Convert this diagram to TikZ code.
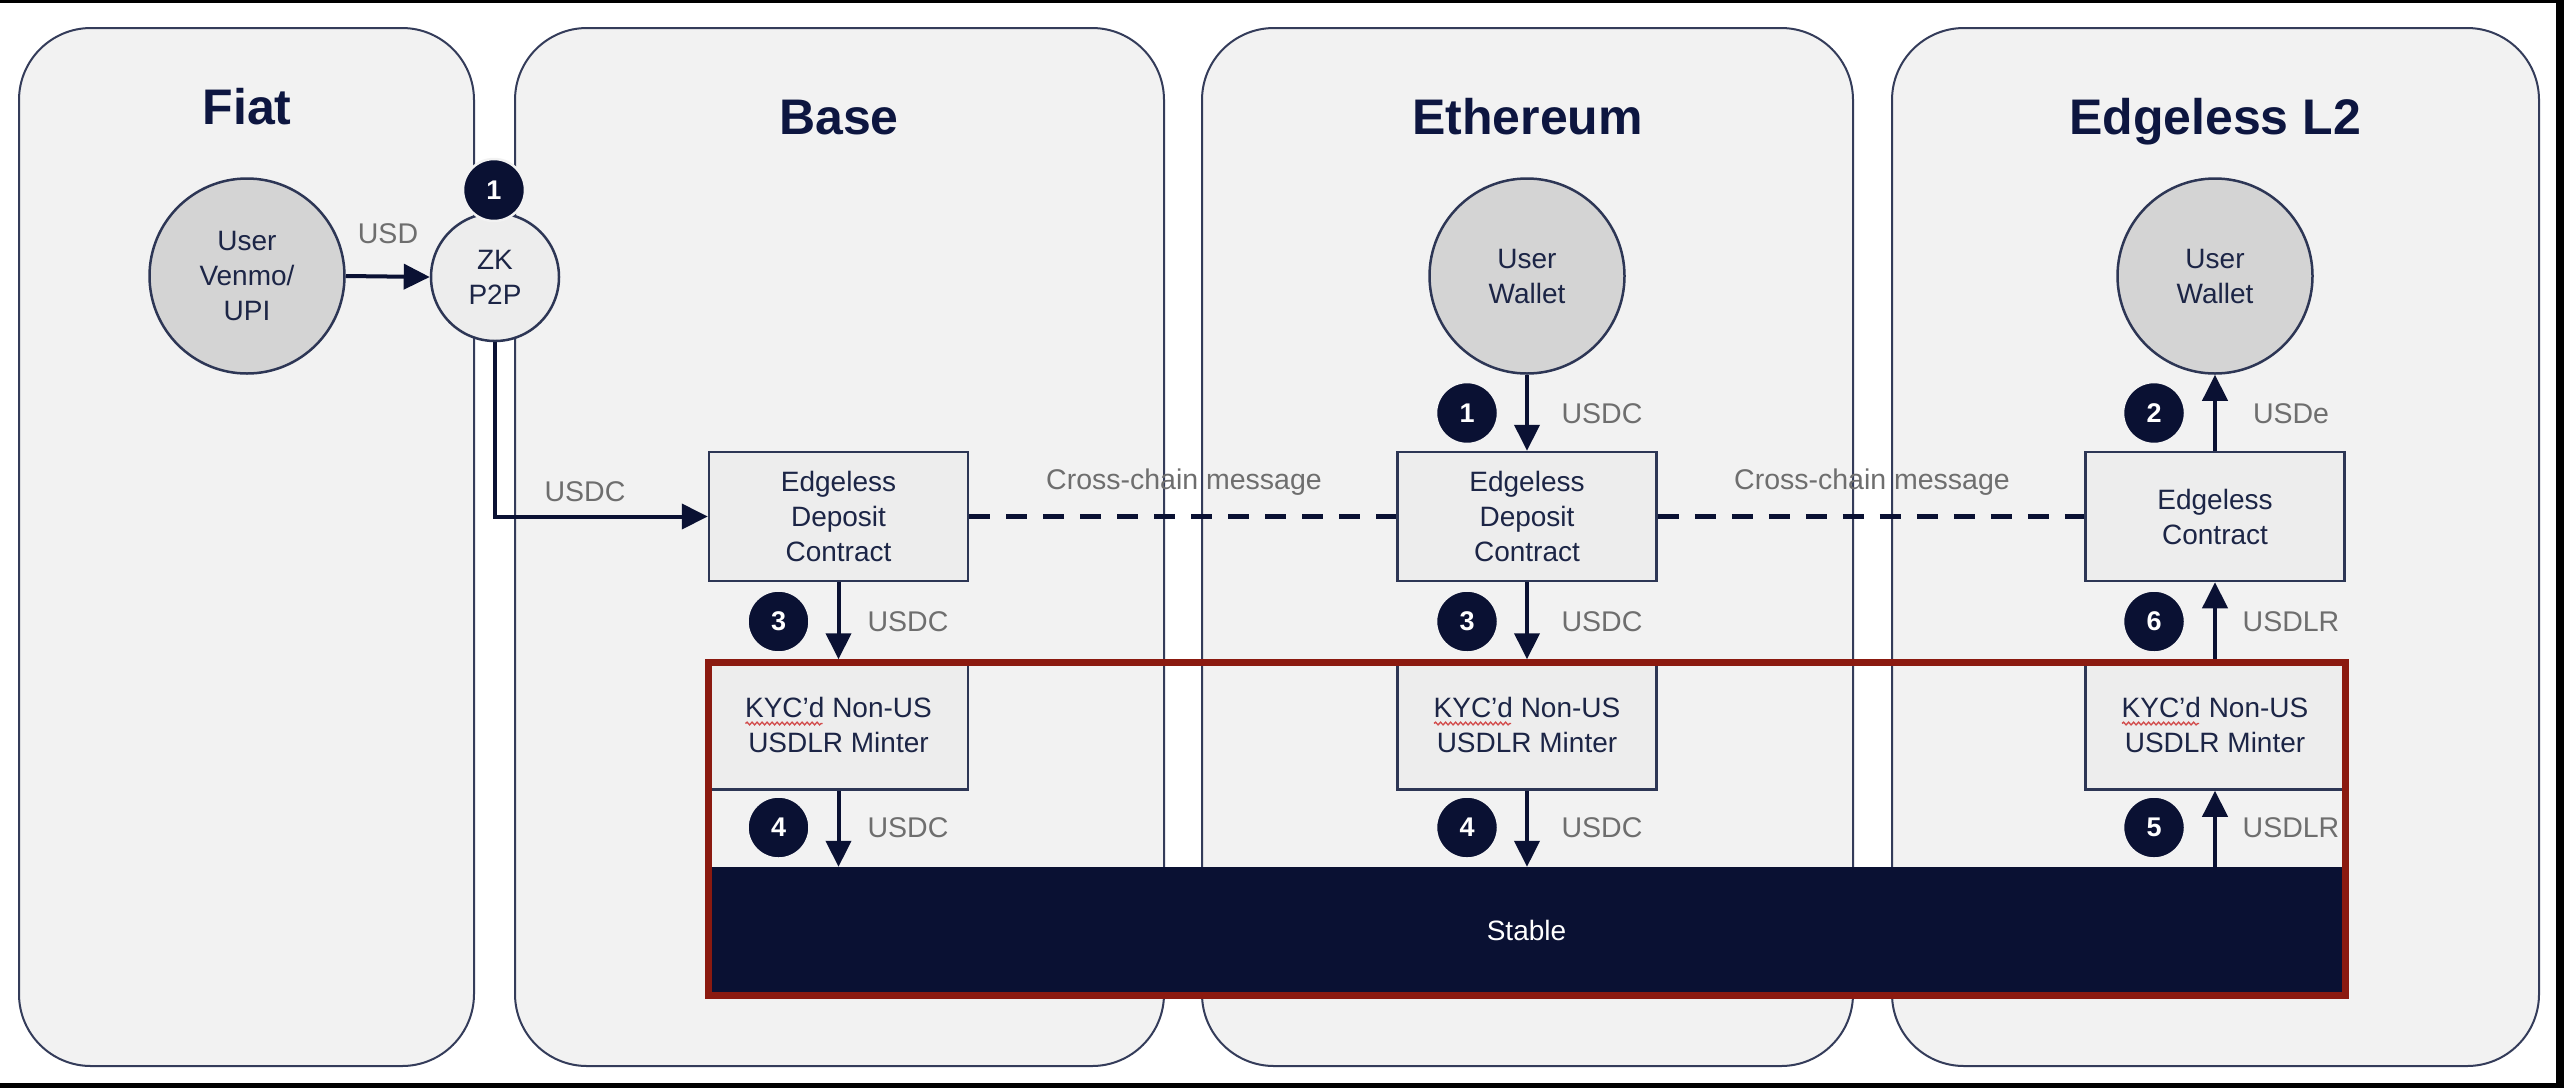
\documentclass[tikz,border=0pt]{standalone}
\usepackage{fontspec}
\setmainfont{Liberation Sans}
\usetikzlibrary{arrows.meta,calc,decorations.pathmorphing}
\definecolor{panelfill}{HTML}{F2F2F2}
\definecolor{panelline}{HTML}{343C5A}
\definecolor{boxfill}{HTML}{EDEDED}
\definecolor{boxline}{HTML}{2D3655}
\definecolor{userfill}{HTML}{D4D4D4}
\definecolor{navy}{HTML}{0A1133}
\definecolor{titlenavy}{HTML}{0D1640}
\definecolor{textnavy}{HTML}{1C2546}
\definecolor{labelgray}{HTML}{6E6E6E}
\definecolor{kycred}{HTML}{8B1A10}
\definecolor{squigred}{HTML}{D24B4B}
\begin{document}
\begin{tikzpicture}[x=1pt,y=-1pt,
  panel/.style={draw=panelline, line width=2pt, fill=panelfill, rounded corners=72pt, inner sep=0pt},
  paneltitle/.style={anchor=base, inner sep=0pt, text=titlenavy, font=\fontsize{50}{60}\selectfont\bfseries},
  cbox/.style={draw=boxline, line width=2.5pt, fill=boxfill, minimum width=259pt, minimum height=129pt, inner sep=0pt, align=center, text=textnavy, font=\fontsize{28}{35}\selectfont},
  usercirc/.style={circle, draw=boxline, line width=2.5pt, fill=userfill, minimum size=195pt, inner sep=0pt, align=center, text=textnavy, font=\fontsize{28}{35}\selectfont},
  zkcirc/.style={circle, draw=boxline, line width=2.5pt, fill=boxfill, minimum size=128pt, inner sep=0pt, align=center, text=textnavy, font=\fontsize{28}{35}\selectfont},
  stepbadge/.style={circle, fill=navy, draw=panelfill, line width=2.5pt, minimum size=62pt, inner sep=0pt, text=white, font=\fontsize{27}{30}\selectfont\bfseries},
  lbl/.style={anchor=base, inner sep=0pt, text=labelgray, font=\fontsize{28.5}{34}\selectfont},
  flowarrow/.style={draw=navy, line width=4pt, -{Triangle[width=25pt,length=26pt]}},
  xmsg/.style={draw=navy, line width=4.5pt, dash pattern=on 21pt off 16pt},
  stablebar/.style={fill=navy, minimum width=1637pt, minimum height=126pt, inner sep=0pt, text=white, font=\fontsize{28}{34}\selectfont},
  redframe/.style={draw=kycred, line width=7pt, minimum width=1637pt, minimum height=333pt, inner sep=0pt},
  squig/.style={draw=squigred, line width=1.3pt, decorate, decoration={snake, segment length=5pt, amplitude=1.4pt}}
]
\useasboundingbox (0,0) rectangle (2564,1088);
\fill[white] (0,0) rectangle (2564,1088);
% frame bands
\fill[black] (0,0) rectangle (2564,3);
\fill[black] (0,1083) rectangle (2564,1088);
\fill[black] (2556,0) rectangle (2564,1088);

% panels
\node[panel, minimum width=455pt, minimum height=1038pt] (pfiat) at (246.5,547) {};
\node[panel, minimum width=649pt, minimum height=1038pt] (pbase) at (839.5,547) {};
\node[panel, minimum width=651pt, minimum height=1038pt] (peth) at (1527.5,547) {};
\node[panel, minimum width=647pt, minimum height=1038pt] (pl2) at (2215.5,547) {};

\node[paneltitle] (tfiat) at (247,124) {Fiat};
\node[paneltitle] (tbase) at (839,134) {Base};
\node[paneltitle] (teth) at (1527.5,134) {Ethereum};
\node[paneltitle] (tl2) at (2215,134) {Edgeless L2};

% fiat / zk
\node[usercirc] (user) at (247,276) {User\\Venmo/\\UPI};
\node[zkcirc] (zk) at (495,277) {ZK\\P2P};

% wallets
\node[usercirc] (weth) at (1527,276) {User\\Wallet};
\node[usercirc] (wl2) at (2215,276) {User\\Wallet};

% stable + contract boxes
\node[stablebar] (stable) at (1526.5,930) {Stable};
\node[cbox] (b1) at (838.5,516.5) {Edgeless\\Deposit\\Contract};
\node[cbox] (b2) at (1527,516.5) {Edgeless\\Deposit\\Contract};
\node[cbox] (b3) at (2215,516.5) {Edgeless\\Contract};
\node[cbox] (m1) at (838.5,725) {KYC’d Non-US\\USDLR Minter};
\node[cbox] (m2) at (1527,725) {KYC’d Non-US\\USDLR Minter};
\node[cbox] (m3) at (2215,725) {KYC’d Non-US\\USDLR Minter};
\node[redframe] (kyc) at (1526.5,828.5) {};

% spell-check squiggles
\draw[squig] ($(m1.center)+(-93,-1.5)$) -- ($(m1.center)+(-16,-1.5)$);
\draw[squig] ($(m2.center)+(-93,-1.5)$) -- ($(m2.center)+(-16,-1.5)$);
\draw[squig] ($(m3.center)+(-93,-1.5)$) -- ($(m3.center)+(-16,-1.5)$);

% connectors
\draw[flowarrow] (user.east) -- (zk.west);
\draw[flowarrow] (zk.south) |- (b1.west);
\draw[xmsg] (b1.east) -- (b2.west);
\draw[xmsg] (b2.east) -- (b3.west);
\draw[flowarrow] (weth.south) -- (b2.north);
\draw[flowarrow] (b1.south) -- (m1.north);
\draw[flowarrow] (b2.south) -- (m2.north);
\draw[flowarrow] (m1.south) -- (m1.south |- stable.north);
\draw[flowarrow] (m2.south) -- (m2.south |- stable.north);
\draw[flowarrow] (m3.south |- stable.north) -- (m3.south);
\draw[flowarrow] (m3.north) -- (b3.south);
\draw[flowarrow] (b3.north) -- (wl2.south);

% labels
\node[lbl] (lusd) at (388,243) {USD};
\node[lbl] (lusdc0) at (585,501) {USDC};
\node[lbl] (lx1) at (1184,489) {Cross-chain message};
\node[lbl] (lx2) at (1872,489) {Cross-chain message};
\node[lbl] (le1) at (1602,423) {USDC};
\node[lbl] (lb3) at (908,631.5) {USDC};
\node[lbl] (le3) at (1602,631.5) {USDC};
\node[lbl] (lb4) at (908,837.5) {USDC};
\node[lbl] (le4) at (1602,837.5) {USDC};
\node[lbl] (ll2) at (2291,423) {USDe};
\node[lbl] (ll6) at (2291,631.5) {USDLR};
\node[lbl] (ll5) at (2291,837.5) {USDLR};

% step badges
\node[stepbadge] (s1zk) at (494,190) {1};
\node[stepbadge] (s1eth) at (1467,413) {1};
\node[stepbadge] (s3base) at (778.5,621.5) {3};
\node[stepbadge] (s4base) at (778.5,827.5) {4};
\node[stepbadge] (s3eth) at (1467,621.5) {3};
\node[stepbadge] (s4eth) at (1467,827.5) {4};
\node[stepbadge] (s2l2) at (2154,413) {2};
\node[stepbadge] (s6l2) at (2154,621.5) {6};
\node[stepbadge] (s5l2) at (2154,827.5) {5};
\end{tikzpicture}
\end{document}
